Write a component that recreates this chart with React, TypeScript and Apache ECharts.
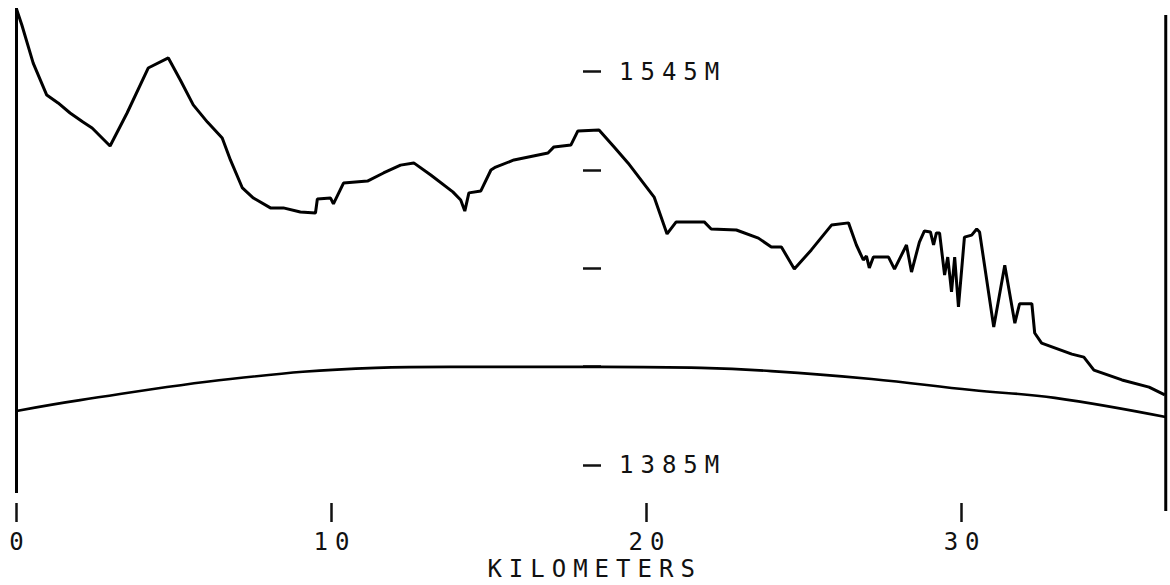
import React, { useEffect, useRef } from 'react';
import * as echarts from 'echarts';

// Terrain profile (km along path, elevation in metres)
const profileKm = [
  0, 0.17, 0.53, 0.96, 1.32, 1.7, 2.11, 2.4, 2.97, 3.51, 4.18, 4.82, 5.2, 5.61, 6.06, 6.53, 6.79,
  7.17, 7.52, 8.06, 8.47, 9.01, 9.49, 9.55, 9.97, 10.06, 10.38, 11.14, 11.65, 12.19, 12.61, 13.15,
  13.85, 14.1, 14.23, 14.36, 14.74, 15.06, 15.21, 15.79, 16.87, 17.06, 17.6, 17.82, 18.49, 18.97,
  19.41, 20.24, 20.65, 20.94, 21.83, 22.05, 22.85, 23.55, 23.96, 24.28, 24.69, 25.23, 25.87, 26.41,
  26.66, 26.88, 26.98, 27.07, 27.2, 27.68, 27.87, 28.25, 28.41, 28.66, 28.82, 29.01, 29.11, 29.2,
  29.3, 29.46, 29.56, 29.68, 29.78, 29.9, 30.09, 30.32, 30.48, 30.57, 31.02, 31.37, 31.69, 31.84,
  32.23, 32.32, 32.54, 33.5, 33.88, 34.2, 35.09, 35.95, 36.45,
];
const profileM = [
  1570.5, 1564.0, 1548.5, 1535.5, 1532.3, 1528.2, 1524.5, 1522.1, 1514.8, 1528.2, 1546.5, 1550.6,
  1541.6, 1531.5, 1524.5, 1518.0, 1509.1, 1497.7, 1493.6, 1489.6, 1489.6, 1487.9, 1487.5, 1493.2,
  1493.6, 1491.2, 1499.7, 1500.5, 1503.8, 1507.0, 1507.9, 1503.0, 1496.1, 1492.8, 1488.3, 1495.7,
  1496.5, 1505.0, 1506.2, 1509.1, 1511.9, 1514.4, 1515.2, 1520.9, 1521.3, 1514.4, 1507.9, 1494.0,
  1479.0, 1483.9, 1483.9, 1481.0, 1480.6, 1477.3, 1473.7, 1473.7, 1464.7, 1472.5, 1482.6, 1483.5,
  1474.5, 1468.4, 1470.0, 1465.2, 1469.6, 1469.6, 1464.7, 1474.5, 1463.5, 1475.7, 1480.2, 1479.8,
  1474.5, 1479.4, 1479.4, 1462.3, 1469.6, 1455.4, 1469.6, 1449.3, 1477.7, 1478.5, 1481.0, 1479.8,
  1441.1, 1466.3, 1442.7, 1450.6, 1450.6, 1438.7, 1434.6, 1430.1, 1428.9, 1423.6, 1419.6, 1416.7,
  1413.5,
];

// Earth-curvature reference line
const curveKm = [0, 2.02, 6.79, 11.4, 13.78, 18.55, 21.73, 23.96, 27.14, 30.32, 32.96, 36.48];
const curveM = [1407.0, 1411.4, 1420.0, 1424.5, 1424.9, 1424.9, 1424.5, 1423.2, 1420.0, 1415.5, 1412.3, 1404.5];

// Frame lines at both ends
const leftFrameKm = [0, 0];
const leftFrameM = [1373.6, 1570.9];
const rightFrameKm = [36.48, 36.48];
const rightFrameM = [1366.3, 1568.1];

const xTickValues = [0, 10, 20, 30];
const yTickValues = [1385, 1425, 1465, 1505, 1545];
const yLabelValues = [1385, 1545];
const xTitle = 'KILOMETERS';

const X_MIN = 0;
const X_MAX = 36.48;
const Y_MIN = 1369.54;
const Y_MAX = 1574.17;

const zip = (xs: number[], ys: number[]) => xs.map((x, i) => [x, ys[i]]);

const FONT = "'DejaVu Sans Mono', monospace";

export default function App() {
  const ref = useRef<HTMLDivElement>(null);
  useEffect(() => {
    if (!ref.current) return;
    const chart = echarts.init(ref.current, undefined, { renderer: 'svg' });
    const lineBase = { type: 'line', showSymbol: false, symbol: 'none', silent: true, clip: false } as any;
    chart.setOption({
      animation: false,
      backgroundColor: '#ffffff',
      grid: { left: 16.5, right: 4.25, top: 0, bottom: 82, containLabel: false, outerBoundsMode: 'none' } as any,
      xAxis: {
        type: 'value',
        min: X_MIN,
        max: X_MAX,
        interval: 10,
        name: xTitle,
        nameLocation: 'middle',
        nameGap: 54,
        nameMoveOverlap: false,
        nameTextStyle: { color: '#111', fontSize: 24, fontFamily: FONT, padding: [0, 0, 0, 7] },
        axisLine: { show: false },
        axisTick: {
          show: true,
          length: 19,
          customValues: xTickValues,
          lineStyle: { color: '#111', width: 2.5 },
        },
        axisLabel: {
          show: true,
          customValues: xTickValues,
          margin: 27,
          color: '#111',
          fontSize: 24,
          fontFamily: FONT,
          padding: [0, 0, 0, 7],
        },
        splitLine: { show: false },
      } as any,
      yAxis: [
        {
          type: 'value',
          min: Y_MIN,
          max: Y_MAX,
          show: false,
          splitLine: { show: false },
        },
        {
          type: 'value',
          min: Y_MIN,
          max: Y_MAX,
          position: 'left',
          offset: -566.5,
          axisLine: { show: false },
          axisTick: {
            show: true,
            inside: true,
            length: 18,
            customValues: yTickValues,
            lineStyle: { color: '#111', width: 2.5 },
          },
          axisLabel: {
            show: true,
            inside: true,
            margin: 36,
            customValues: yLabelValues,
            formatter: (v: number) => `${v}M`,
            color: '#111',
            fontSize: 24,
            fontFamily: FONT,
          },
          splitLine: { show: false },
        },
      ] as any,
      series: [
        { ...lineBase, name: 'profile', data: zip(profileKm, profileM), lineStyle: { color: '#000', width: 3 } },
        { ...lineBase, name: 'curvature', smooth: 0.4, data: zip(curveKm, curveM), lineStyle: { color: '#000', width: 2.6 } },
        { ...lineBase, name: 'left', data: zip(leftFrameKm, leftFrameM), lineStyle: { color: '#000', width: 3 } },
        { ...lineBase, name: 'right', data: zip(rightFrameKm, rightFrameM), lineStyle: { color: '#000', width: 3 } },
      ],
    });
    return () => chart.dispose();
  }, []);
  return (
    <div
      ref={ref}
      style={{
        position: 'fixed',
        left: 0,
        top: 0,
        width: 1170,
        height: 585,
        background: '#fff',
        letterSpacing: '7px',
      }}
    />
  );
}
